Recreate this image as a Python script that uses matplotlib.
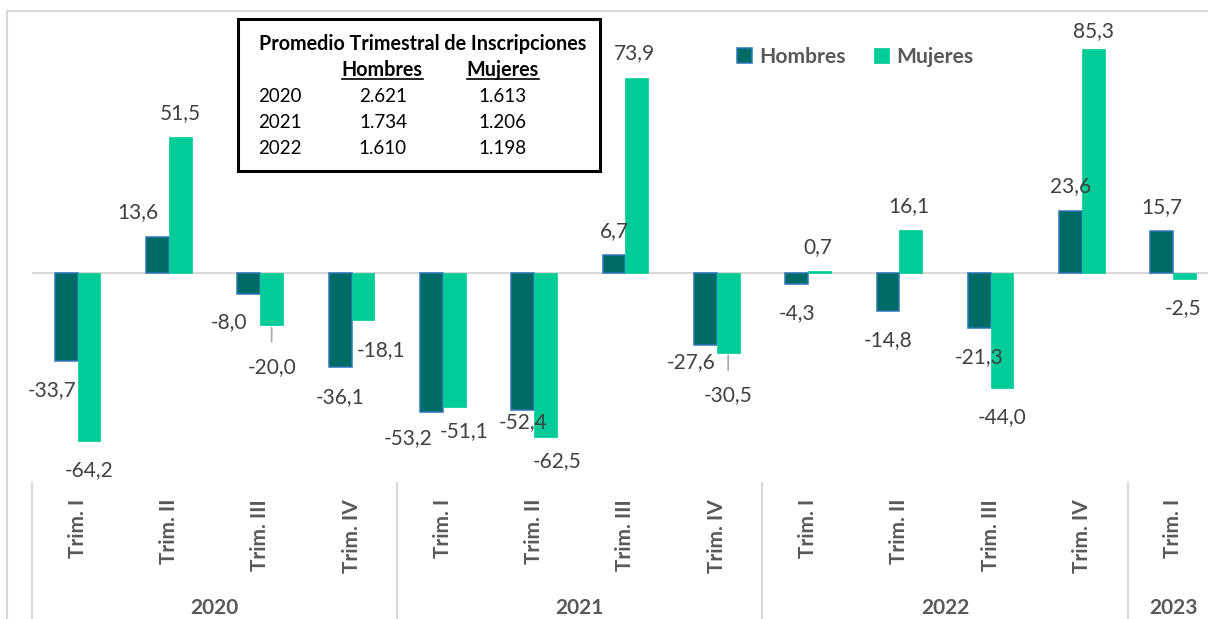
import matplotlib.pyplot as plt
import matplotlib.transforms as mtransforms
from matplotlib.lines import Line2D
from matplotlib.patches import Rectangle
import numpy as np

plt.rcParams['font.family'] = ['Lato', 'DejaVu Sans']

# Data
trimestres = ['Trim. I', 'Trim. II', 'Trim. III', 'Trim. IV',
              'Trim. I', 'Trim. II', 'Trim. III', 'Trim. IV',
              'Trim. I', 'Trim. II', 'Trim. III', 'Trim. IV',
              'Trim. I']
anios = ['2020', '2021', '2022', '2023']
trim_por_anio = [4, 4, 4, 1]
hombres = [-33.7, 13.6, -8.0, -36.1, -53.2, -52.4, 6.7, -27.6, -4.3, -14.8, -21.3, 23.6, 15.7]
mujeres = [-64.2, 51.5, -20.0, -18.1, -51.1, -62.5, 73.9, -30.5, 0.7, 16.1, -44.0, 85.3, -2.5]

# Inset table
tabla_anios = ['2020', '2021', '2022']
prom_hombres = ['2.621', '1.734', '1.610']
prom_mujeres = ['1.613', '1.206', '1.198']

# label offsets (pixels) relative to bar end
h_dx = [-14, -20, -20, 0, -23, 0, 0, -14, 0, 0, 0, 0, 0]
h_dy = [-29, 25, -29, -30, -26, -12, 24, -17, -29, -29, -29, 24, 24]
m_dx = [0, 0, 0, 18, 10, 12, -2, 0, -2, -2, 0, 0, -2]
m_dy = [-29, 24, -42, -30, -24, -24, 25, -43, 24, 24, -29, 17, -29]
leader = [2, 7]

c_h = '#006B64'
c_h_edge = '#2E75B6'
c_m = '#00CC99'
gray_txt = '#595959'
lbl_txt = '#404040'
grid_c = '#D9D9D9'

W, H = 1208, 619
fig = plt.figure(figsize=(W / 100, H / 100), dpi=100)

# outer chart border
fig.patches.append(Rectangle((7 / W, -0.1), 1.2, (H - 11) / H + 0.1, transform=fig.transFigure,
                             fill=False, edgecolor=grid_c, lw=1.5))

ax = fig.add_axes([32 / W, (H - 483) / H, 13 * 91.3 / W, (483 - 11) / H])
ax.set_xlim(-0.5, 12.5)
ax.set_ylim(-(483 - 272.5) / 2.626, (272.5 - 11) / 2.626)
ax.axis('off')
ax.axhline(0, color=grid_c, lw=1.5, zorder=1)

x = np.arange(len(trimestres))
w = 0.25
bh = ax.bar(x - w / 2, hombres, w, color=c_h, edgecolor=c_h_edge, lw=1.1, label='Hombres', zorder=2)
bm = ax.bar(x + w / 2, mujeres, w, color=c_m, edgecolor=c_m, lw=0.5, label='Mujeres', zorder=2)

def fmt(v):
    return f"{v:.1f}".replace('.', ',')

for i in range(len(x)):
    ax.annotate(fmt(hombres[i]), (x[i] - w / 2, hombres[i]), xytext=(h_dx[i], h_dy[i]),
                textcoords='offset pixels', ha='center', va='center', fontsize=15, color=lbl_txt)
    arrow = dict(arrowstyle='-', color='#A6A6A6', lw=1.2, shrinkA=9, shrinkB=2) if i in leader else None
    ax.annotate(fmt(mujeres[i]), (x[i] + w / 2, mujeres[i]), xytext=(m_dx[i], m_dy[i]),
                textcoords='offset pixels', ha='center', va='center', fontsize=15, color=lbl_txt,
                arrowprops=arrow)

# category axis
trans = mtransforms.blended_transform_factory(ax.transData, fig.transFigure)
for i, t in enumerate(trimestres):
    ax.text(i, (H - 499) / H, t, transform=trans, rotation=90, ha='center', va='top',
            fontsize=15, fontweight='bold', color=gray_txt, clip_on=False)

start = 0
seps = [-0.5]
for a, n in zip(anios, trim_por_anio):
    ax.text(start + (n - 1) / 2, (H - 608) / H, a, transform=trans, ha='center', va='center',
            fontsize=15, fontweight='bold', color=gray_txt, clip_on=False)
    start += n
    seps.append(start - 0.5)
for s in seps:
    ax.add_line(Line2D([s, s], [(H - 483) / H, 0], transform=trans, color=grid_c, lw=1.5, clip_on=False))

# legend
fig.legend(handles=[bh, bm], loc='center left', bbox_to_anchor=(718 / W, 1 - 57 / H), ncol=2,
           frameon=False, handlelength=0.7, handleheight=0.7, handletextpad=0.35, columnspacing=1.35,
           prop=dict(size=15.2, weight='bold'), labelcolor=gray_txt)

# inset table
fig.patches.append(Rectangle((238 / W, 1 - 171 / H), (600 - 238) / W, (171 - 19) / H,
                             transform=fig.transFigure, fill=False, edgecolor='black', lw=2.2))
fig.text(423 / W, 1 - 44 / H, 'Promedio Trimestral de Inscripciones', ha='center', va='center',
         fontsize=14.2, fontweight='bold', color='black')
headers = []
for hx, ht in [(382, 'Hombres'), (503, 'Mujeres')]:
    headers.append(fig.text(hx / W, 1 - 70 / H, ht, ha='center', va='center', fontsize=14.2,
                            fontweight='bold', color='black'))
for r, (a, hv, mv) in enumerate(zip(tabla_anios, prom_hombres, prom_mujeres)):
    yy = 1 - (96 + 26 * r) / H
    fig.text(258 / W, yy, a, ha='left', va='center', fontsize=13.5, color='black')
    fig.text(383 / W, yy, hv, ha='center', va='center', fontsize=13.5, color='black')
    fig.text(502 / W, yy, mv, ha='center', va='center', fontsize=13.5, color='black')

fig.canvas.draw()
r = fig.canvas.get_renderer()
for t in headers:
    bb = t.get_window_extent(r)
    fig.add_artist(Line2D([bb.x0 / W, bb.x1 / W], [(H - 79) / H] * 2, transform=fig.transFigure,
                          color='black', lw=1.2))

fig.savefig('out.png', dpi=100)
